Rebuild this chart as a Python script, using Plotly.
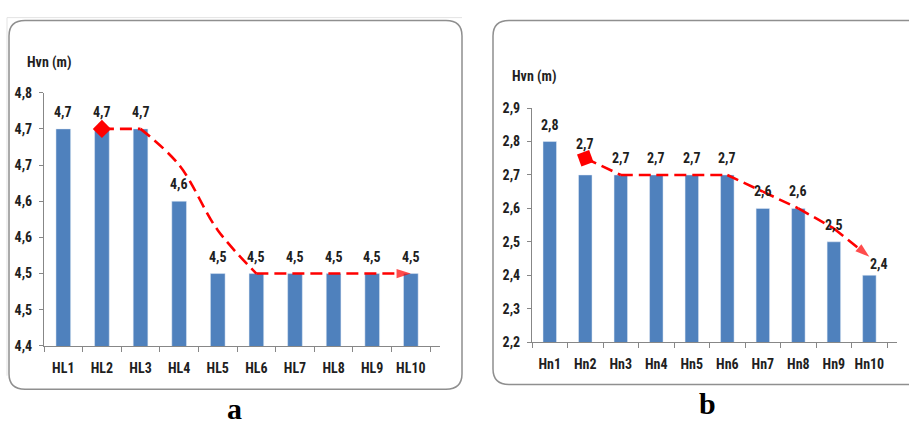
import plotly.graph_objects as go

W, H = 909, 429

# ---- data -----------------------------------------------------------------
cats_a = ["HL1", "HL2", "HL3", "HL4", "HL5", "HL6", "HL7", "HL8", "HL9", "HL10"]
hvn_a = [4.7, 4.7, 4.7, 4.6, 4.5, 4.5, 4.5, 4.5, 4.5, 4.5]
trend_cats_a = ["HL2", "HL3", "HL4", "HL5", "HL6", "HL7", "HL8", "HL9", "HL10"]
trend_a = [4.7, 4.7, 4.65, 4.56, 4.5, 4.5, 4.5, 4.5, 4.5]
ytick_vals_a = [4.4, 4.45, 4.5, 4.55, 4.6, 4.65, 4.7, 4.75]
ytick_text_a = ["4,4", "4,5", "4,5", "4,6", "4,6", "4,7", "4,7", "4,8"]

cats_b = ["Hn1", "Hn2", "Hn3", "Hn4", "Hn5", "Hn6", "Hn7", "Hn8", "Hn9", "Hn10"]
hvn_b = [2.8, 2.7, 2.7, 2.7, 2.7, 2.7, 2.6, 2.6, 2.5, 2.4]
trend_cats_b = ["Hn2", "Hn3", "Hn4", "Hn5", "Hn6", "Hn7", "Hn8", "Hn9", "Hn10"]
trend_b = [2.75, 2.7, 2.7, 2.7, 2.7, 2.65, 2.6, 2.54, 2.455]
ytick_vals_b = [2.2, 2.3, 2.4, 2.5, 2.6, 2.7, 2.8, 2.9]
ytick_text_b = ["2,2", "2,3", "2,4", "2,5", "2,6", "2,7", "2,8", "2,9"]

y_title = "Hvn (m)"
panel_labels = ["a", "b"]

# ---- helpers ----------------------------------------------------------------
def px(x):
    return x / W


def py(y):
    return 1 - y / H


def comma(v):
    return f"{v:.1f}".replace(".", ",")


FONT = "Liberation Sans Narrow, Roboto Condensed, DejaVu Sans Condensed, Arial, sans-serif"
SERIF = "Liberation Serif, Times New Roman, serif"
TXT = "#1f1f1f"
BAR = "#4f81bd"
RED = "#ff0000"
AX = "#878787"

fig = go.Figure()

# bars
fig.add_trace(go.Bar(x=cats_a, y=hvn_a, marker_color=BAR, xaxis="x", yaxis="y",
                     showlegend=False, hoverinfo="skip"))
fig.add_trace(go.Bar(x=cats_b, y=hvn_b, marker_color=BAR, xaxis="x2", yaxis="y2",
                     showlegend=False, hoverinfo="skip"))

DASH = "12px,6px"


def seg(xs, ys, xa, ya, shape="linear", end_arrow=False):
    """One dashed red piece of a trend path, optionally ending in an arrow head."""
    n = len(xs)
    if end_arrow:
        marker = dict(symbol=["circle"] * (n - 1) + ["arrow"],
                      size=[0] * (n - 1) + [15], color=RED,
                      angleref="previous", line=dict(width=0))
        mode = "lines+markers"
    else:
        marker = None
        mode = "lines"
    return go.Scatter(x=xs, y=ys, xaxis=xa, yaxis=ya, mode=mode,
                      line=dict(color=RED, width=2.6, dash=DASH, shape=shape, smoothing=1.0),
                      marker=marker, showlegend=False, hoverinfo="skip", cliponaxis=False)


def start_marker(x, y, xa, ya, angle):
    return go.Scatter(x=[x], y=[y], xaxis=xa, yaxis=ya, mode="markers",
                      marker=dict(symbol="diamond", size=14, color=RED, angle=angle,
                                  line=dict(width=0)),
                      showlegend=False, hoverinfo="skip", cliponaxis=False)


# panel a: flat, smooth drop, flat with arrow
fig.add_trace(seg(trend_cats_a[0:2], trend_a[0:2], "x", "y"))
fig.add_trace(seg(trend_cats_a[1:5], trend_a[1:5], "x", "y", shape="spline"))
fig.add_trace(seg(trend_cats_a[4:], trend_a[4:], "x", "y", end_arrow=True))
fig.add_trace(start_marker(trend_cats_a[0], trend_a[0], "x", "y", 0))

# panel b: straight segments with arrow
fig.add_trace(seg(trend_cats_b, trend_b, "x2", "y2", end_arrow=True))
fig.add_trace(start_marker(trend_cats_b[0], trend_b[0], "x2", "y2", 25))

# ---- axes ---------------------------------------------------------------------
tickfont = dict(family=FONT, size=14, color=TXT)
common_x = dict(type="category", showline=True, linecolor=AX, linewidth=1,
                ticks="outside", tickson="boundaries", ticklen=5, tickcolor=AX,
                showgrid=False, zeroline=False, tickfont=tickfont, tickangle=0,
                ticklabelstandoff=9, fixedrange=True,
                tickprefix="<b>", ticksuffix="</b>")
common_y = dict(showline=True, linecolor=AX, linewidth=1, ticks="outside",
                ticklen=4, tickcolor=AX, showgrid=False, zeroline=False,
                tickfont=tickfont, tickmode="array", ticklabelstandoff=4,
                fixedrange=True)

fig.update_layout(
    width=W, height=H, margin=dict(l=0, r=0, t=0, b=0),
    paper_bgcolor="white", plot_bgcolor="rgba(0,0,0,0)",
    bargap=0.62, showlegend=False,
    xaxis=dict(common_x, domain=[px(44), px(440)], anchor="y"),
    yaxis=dict(common_y, domain=[py(351), py(88)], range=[4.4, 4.75],
               tickvals=ytick_vals_a, ticktext=[f"<b>{t}</b>" for t in ytick_text_a],
               anchor="x"),
    xaxis2=dict(common_x, domain=[px(532), px(897)], anchor="y2"),
    yaxis2=dict(common_y, domain=[py(347), py(104)], range=[2.2, 2.9],
                tickvals=ytick_vals_b, ticktext=[f"<b>{t}</b>" for t in ytick_text_b],
                anchor="x2"),
)

# ---- value labels, titles, panel letters ------------------------------------
lab_font = dict(family=FONT, size=14, color=TXT)
# labels nudged clear of the trend-line marks in panel b
nudge_b = {"Hn2": (0, 31), "Hn10": (10, 11)}

annotations = []
for c, v in zip(cats_a, hvn_a):
    annotations.append(dict(x=c, y=v, xref="x", yref="y", text=f"<b>{comma(v)}</b>",
                            showarrow=False, yshift=17, xanchor="center", yanchor="middle",
                            font=lab_font))
for c, v in zip(cats_b, hvn_b):
    dx, dy = nudge_b.get(c, (0, 17))
    annotations.append(dict(x=c, y=v, xref="x2", yref="y2", text=f"<b>{comma(v)}</b>",
                            showarrow=False, xshift=dx, yshift=dy,
                            xanchor="center", yanchor="middle", font=lab_font))

annotations.append(dict(x=px(49), y=py(57), xref="paper", yref="paper", text=f"<b>{y_title}</b>",
                        showarrow=False, xanchor="center", yanchor="middle", font=lab_font))
annotations.append(dict(x=px(534), y=py(71), xref="paper", yref="paper", text=f"<b>{y_title}</b>",
                        showarrow=False, xanchor="center", yanchor="middle", font=lab_font))

annotations.append(dict(x=px(235), y=py(416), xref="paper", yref="paper",
                        text=f"<b>{panel_labels[0]}</b>", showarrow=False,
                        xanchor="center", yanchor="middle",
                        font=dict(family=SERIF, size=30, color="#000")))
annotations.append(dict(x=px(707), y=py(411), xref="paper", yref="paper",
                        text=f"<b>{panel_labels[1]}</b>", showarrow=False,
                        xanchor="center", yanchor="middle",
                        font=dict(family=SERIF, size=30, color="#000")))

fig.update_layout(annotations=annotations)

# ---- rounded chart frames ---------------------------------------------------
def rounded_rect(x0, y0, x1, y1, r):
    rx, ry = r / W, r / H
    X0, X1 = px(x0), px(x1)
    Y0, Y1 = py(y0), py(y1)  # Y0 top, Y1 bottom
    return (f"M {X0 + rx},{Y0} L {X1 - rx},{Y0} Q {X1},{Y0} {X1},{Y0 - ry} "
            f"L {X1},{Y1 + ry} Q {X1},{Y1} {X1 - rx},{Y1} L {X0 + rx},{Y1} "
            f"Q {X0},{Y1} {X0},{Y1 + ry} L {X0},{Y0 - ry} Q {X0},{Y0} {X0 + rx},{Y0} Z")


shapes = [
    # faint sheet gridlines behind the frames
    dict(type="line", xref="paper", yref="paper", x0=px(7), x1=px(462), y0=py(10), y1=py(10),
         line=dict(color="#e3e3e3", width=1), layer="below"),
    dict(type="line", xref="paper", yref="paper", x0=px(7), x1=px(7), y0=py(10), y1=py(382),
         line=dict(color="#e3e3e3", width=1), layer="below"),
    dict(type="path", xref="paper", yref="paper", path=rounded_rect(9, 13, 462, 396, 16),
         line=dict(color="#8f8f8f", width=1.5), layer="below"),
    dict(type="path", xref="paper", yref="paper", path=rounded_rect(493, 13, 925, 391, 16),
         line=dict(color="#8f8f8f", width=1.5), layer="below"),
]
fig.update_layout(shapes=shapes)

fig.write_html("out.html")
